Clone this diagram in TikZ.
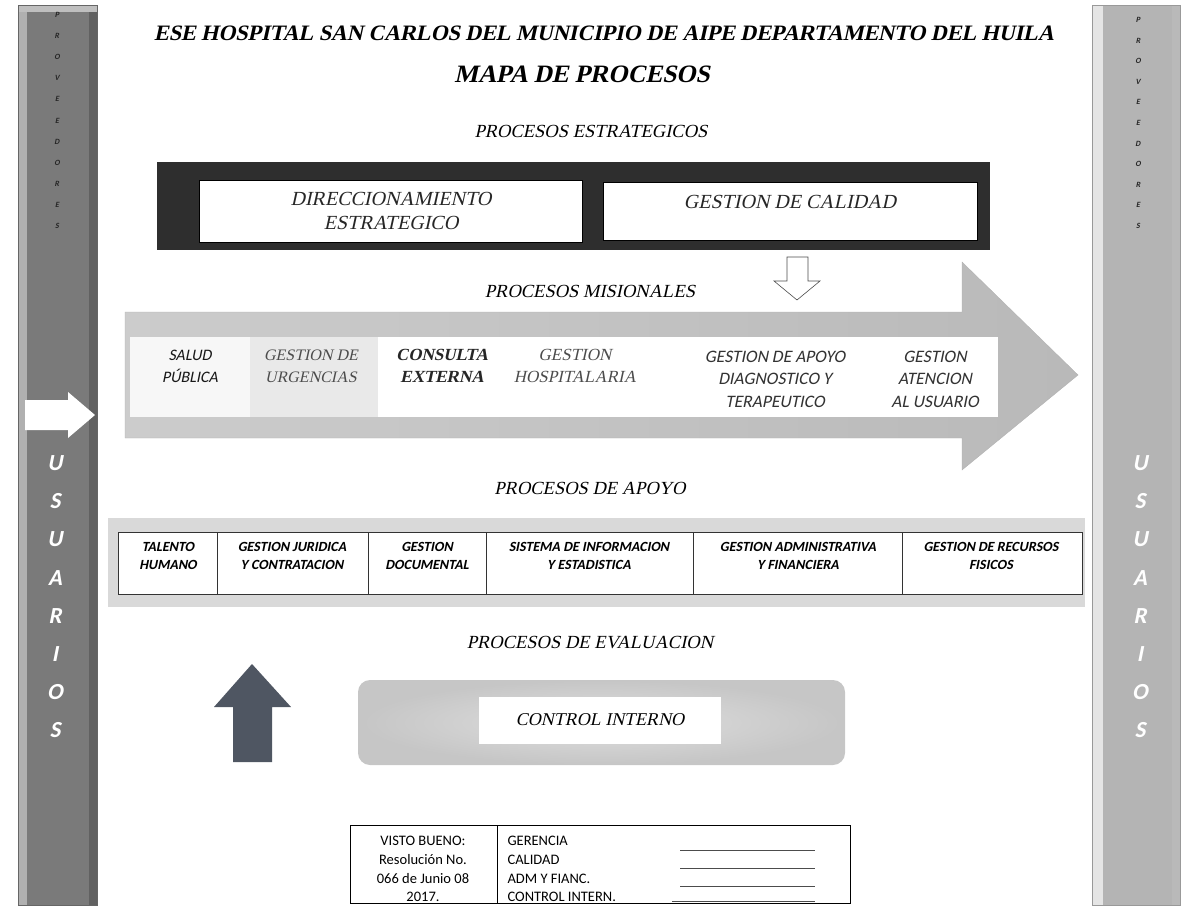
\documentclass[tikz,border=0pt]{standalone}
\usepackage{fontspec}
\setmainfont{Liberation Serif}[BoldFont={Liberation Serif Bold}, ItalicFont={Liberation Serif}, ItalicFeatures={FakeSlant=0.22}, BoldItalicFont={Liberation Serif Bold}, BoldItalicFeatures={FakeSlant=0.22}]
\newfontfamily\calib{Carlito}[BoldFont={Carlito Bold}, ItalicFont={Carlito}, ItalicFeatures={FakeSlant=0.2}, BoldItalicFont={Carlito Bold}, BoldItalicFeatures={FakeSlant=0.2}]
\usetikzlibrary{arrows}

\definecolor{barraosc}{HTML}{7A7A7A}
\definecolor{barraclr}{HTML}{B4B4B4}
\definecolor{flechaosc}{HTML}{4F5662}
\definecolor{estrat}{HTML}{2E2E2E}

\tikzset{
  titulo/.style={font=\fontsize{#1}{#1}\selectfont\bfseries\itshape, align=center},
  seccion/.style={font=\fontsize{18.5}{18.5}\selectfont\itshape, align=center},
  caja/.style={draw=black, fill=white, line width=0.8pt},
  misionserif/.style={font=\fontsize{17}{22}\selectfont\itshape, align=center, text=black!85},
  misionsans/.style={font=\fontsize{17.5}{22.5}\selectfont\calib\itshape, align=center, text=black!80},
  apoyo/.style={font=\fontsize{14}{18}\selectfont\calib\bfseries\itshape, align=center},
  letrap/.style={font=\fontsize{8}{8}\selectfont\calib\bfseries\itshape, text=black!85},
  letrau/.style={font=\fontsize{23}{23}\selectfont\calib\bfseries\itshape, text=white},
  firma/.style={font=\fontsize{14.5}{18.7}\selectfont\calib, align=center}
}

\begin{document}
\begin{tikzpicture}[x=1pt,y=-1pt]
\useasboundingbox (0,0) rectangle (1186,912);

% barras laterales
\fill[barraosc] (18,5) rectangle (97,905);
\fill[gray!62] (18,5) rectangle (27,905);
\fill[black!62] (89,5) rectangle (97,905);
\fill[gray!50] (18,5) rectangle (97,12);
\draw[black!60] (18,5) rectangle (97,905);
\fill[barraclr] (1092,5) rectangle (1180,905);
\fill[gray!20] (1092,5) rectangle (1103,905);
\fill[gray!55] (1172,5) rectangle (1180,905);
\draw[black!40] (1092,5) rectangle (1180,905);

\foreach \l [count=\i] in {P,R,O,V,E,E,D,O,R,E,S} {
  \node[letrap] (pi\i) at (57,{15+21.1*(\i-1)}) {\l};
  \node[letrap] (pd\i) at (1138,{20+20.6*(\i-1)}) {\l};
}
\foreach \l [count=\i] in {U,S,U,A,R,I,O,S} {
  \node[letrau] (ui\i) at (55,{463+38.2*(\i-1)}) {\l};
  \node[letrau] (ud\i) at (1140,{463+38.2*(\i-1)}) {\l};
}
% flecha blanca
\fill[white] (25,400) -- (68,400) -- (68,392) -- (95,415) -- (68,438) -- (68,430) -- (25,430) -- cycle;

% titulos
\node[titulo=22] (tit) at (604,33) {ESE HOSPITAL SAN CARLOS DEL MUNICIPIO DE AIPE DEPARTAMENTO DEL HUILA};
\node[titulo=25] (mapa) at (582,74) {MAPA DE PROCESOS};
\node[seccion] (estr) at (591,131) {PROCESOS ESTRATEGICOS};

% procesos estrategicos
\fill[estrat] (157,162) rectangle (990,250);
\node[caja, minimum width=383pt, minimum height=62pt] (dir) at (391,211) {};
\node[misionserif, font=\fontsize{20}{24}\selectfont\itshape] at (dir) {DIRECCIONAMIENTO\\ESTRATEGICO};
\node[caja, minimum width=374pt, minimum height=58pt] (cal) at (790,211) {};
\node[misionserif, font=\fontsize{20}{24}\selectfont\itshape] at ([yshift=9pt]cal) {GESTION DE CALIDAD};

% flecha hueca
\draw[black!70, fill=white, line width=0.6pt] (787,257) -- (808,257) -- (808,281) -- (820,281) -- (797,300) -- (774,281) -- (787,281) -- cycle;
\node[seccion] (mis) at (590,291) {PROCESOS MISIONALES};

% flecha grande de procesos misionales
\shade[left color=gray!40, right color=gray!55, draw=gray!60] (125,312) -- (962,312) -- (962,262) -- (1078,375) -- (962,470) -- (962,438) -- (125,438) -- cycle;
\fill[white] (130,337) rectangle (998,417);
\fill[gray!6] (130,337) rectangle (250,417);
\fill[gray!17] (250,337) rectangle (378,417);
\node[misionsans, font=\fontsize{16}{22}\selectfont\calib\itshape, text=black!90] (sal) at (190,366) {SALUD\\PÚBLICA};
\node[misionserif, font=\fontsize{16}{22}\selectfont\itshape, text=black!70] (urg) at (311,366) {GESTION DE\\URGENCIAS};
\node[misionserif, font=\fontsize{17}{22}\selectfont\bfseries\itshape] (con) at (442,366) {CONSULTA\\EXTERNA};
\node[misionserif, text=black!70] (hos) at (575,366) {GESTION\\HOSPITALARIA};
\node[misionsans] (apd) at (775,379) {GESTION DE APOYO\\DIAGNOSTICO Y\\TERAPEUTICO};
\node[misionsans] (ate) at (935,379) {GESTION\\ATENCION\\AL USUARIO};

% procesos de apoyo
\node[seccion] (apo) at (590,488) {PROCESOS DE APOYO};
\fill[gray!30] (108,518) rectangle (1085,607);
\draw[black!80, fill=white, line width=0.8pt] (118,532) rectangle (1082,594);
\foreach \x in {217,368,486,693,902}
  \draw[black!80, line width=0.8pt] (\x,532) -- (\x,594);
\node[apoyo] (tal) at (168,556) {TALENTO\\HUMANO};
\node[apoyo] (jur) at (292,556) {GESTION JURIDICA\\Y CONTRATACION};
\node[apoyo] (doc) at (427,556) {GESTION\\DOCUMENTAL};
\node[apoyo] (sis) at (589,556) {SISTEMA DE INFORMACION\\Y ESTADISTICA};
\node[apoyo] (adm) at (798,556) {GESTION ADMINISTRATIVA\\Y FINANCIERA};
\node[apoyo] (rec) at (991,556) {GESTION DE RECURSOS\\FISICOS};

% procesos de evaluacion
\node[seccion] (eva) at (590,643) {PROCESOS DE EVALUACION};
\fill[flechaosc] (252,664) -- (291,707) -- (272,707) -- (272,762) -- (233,762) -- (233,707) -- (214,707) -- cycle;
\shade[rounded corners=12pt, outer color=gray!45, inner color=gray!25] (358,680) rectangle (845,765);
\node[fill=white, minimum width=242pt, minimum height=47pt, font=\fontsize{18}{18}\selectfont\itshape] (cin) at (600,720) {CONTROL INTERNO};

% visto bueno
\draw[black, line width=0.9pt] (350,825) rectangle (850,903);
\draw[black, line width=0.9pt] (497,825) -- (497,903);
\node[firma] (vis) at (423,869) {VISTO BUENO:\\Resolución No.\\066 de Junio 08\\2017.};
\node[firma, align=left, anchor=west] (car) at (504,869) {GERENCIA\\CALIDAD\\ADM Y FIANC.\\CONTROL INTERN.};
\foreach \y/\a in {850/680,868/680,886/680,901/672}
  \draw[black!70, line width=0.6pt] (\a,\y) -- (815,\y);
\end{tikzpicture}
\end{document}
